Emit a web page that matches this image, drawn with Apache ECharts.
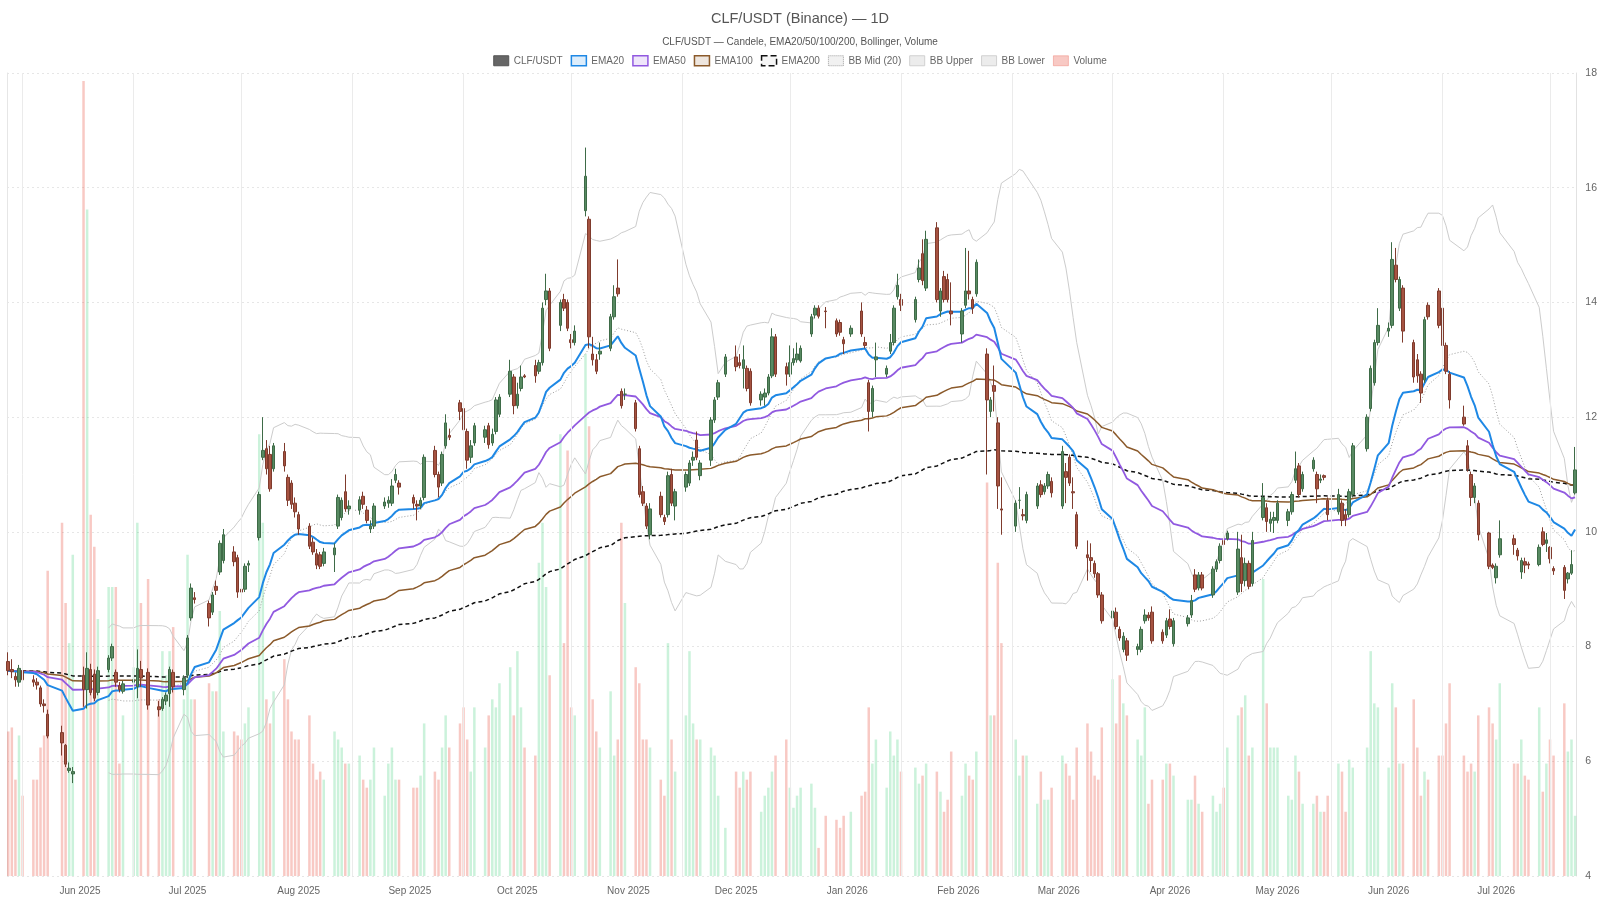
<!DOCTYPE html>
<html>
<head>
<meta charset="utf-8">
<title>CLF/USDT (Binance) — 1D</title>
<script src="https://cdn.jsdelivr.net/npm/echarts@6/dist/echarts.min.js"></script>
<style>
  html, body { margin: 0; padding: 0; background: #fff; }
  #chart { width: 1600px; height: 900px; }
</style>
</head>
<body>
<div id="chart"></div>
<script>
// Trading calendar (US market days)
const firstDay = [2025, 4, 12];
const lastDay = [2026, 6, 23];
const holidays = [
    '2025-05-26', '2025-06-19', '2025-07-04', '2025-09-01', '2025-11-27', '2025-12-25',
    '2026-01-01', '2026-01-19', '2026-02-16', '2026-04-03', '2026-05-25', '2026-06-19', '2026-07-03'
];
const monthNames = ['Jan', 'Feb', 'Mar', 'Apr', 'May', 'Jun', 'Jul', 'Aug', 'Sep', 'Oct', 'Nov', 'Dec'];

// Daily candles [open, high, low, close], one line per week
const candles = [
    [7.74,7.90,7.50,7.58],[7.60,7.78,7.45,7.56],[7.48,7.55,7.30,7.42],[7.38,7.68,7.30,7.62],[7.58,7.62,7.35,7.42],
    [7.42,7.50,7.30,7.38],[7.38,7.45,7.25,7.33],[7.28,7.32,6.95,7.00],[7.00,7.08,6.85,6.97],[6.82,6.90,6.40,6.44],
    [6.50,6.62,6.10,6.32],[6.28,6.30,5.90,5.95],[5.84,5.98,5.80,5.88],[5.78,5.90,5.62,5.82],
    [7.50,7.65,6.95,7.25],[7.25,7.90,6.92,7.62],[7.60,7.70,7.15,7.20],[7.52,7.60,7.05,7.10],[7.20,7.65,7.15,7.58],
    [7.60,7.85,7.55,7.80],[7.80,8.05,7.75,8.00],[7.55,7.60,7.30,7.38],[7.32,7.38,7.20,7.25],[7.22,7.40,7.18,7.35],
    [7.38,7.50,7.20,7.42],[7.30,7.95,7.10,7.62],[7.60,7.75,7.30,7.45],[7.55,7.62,6.90,6.98],
    [6.95,7.05,6.78,6.90],[6.92,7.12,6.88,7.08],[7.05,7.20,6.98,7.15],[7.18,7.65,6.95,7.60],[7.55,7.60,7.20,7.30],
    [7.25,7.50,7.15,7.45],[7.50,8.20,7.45,8.15],[8.50,9.10,8.45,9.02],[8.85,8.95,8.75,8.82],
    [8.75,8.80,8.35,8.50],[8.60,8.95,8.55,8.90],[9.05,9.15,8.90,8.98],[9.30,9.85,9.25,9.80],[9.50,10.05,9.45,9.95],
    [9.65,9.75,9.40,9.48],[9.55,9.60,8.85,8.95],[9.00,9.10,8.70,8.95],[9.00,9.45,8.95,9.40],[9.42,9.50,9.30,9.45],
    [9.90,10.70,9.85,10.65],[11.30,12.00,11.25,11.42],[11.45,11.60,11.00,11.10],[11.35,11.50,10.70,10.75],[11.10,11.55,11.05,11.50],
    [11.40,11.55,11.05,11.15],[10.95,11.00,10.45,10.55],[10.85,10.90,10.40,10.48],[10.50,10.60,10.25,10.35],[10.30,10.35,9.95,10.05],
    [10.10,10.15,9.70,9.75],[9.82,9.90,9.60,9.65],[9.62,9.70,9.35,9.42],[9.60,9.65,9.35,9.40],[9.45,9.72,9.40,9.65],
    [9.60,9.80,9.30,9.72],[10.10,10.65,10.05,10.60],[10.25,10.60,10.20,10.55],[10.70,11.00,10.35,10.40],[10.40,10.55,10.30,10.45],
    [10.38,10.62,10.30,10.56],[10.62,10.70,10.40,10.48],[10.38,10.45,10.15,10.20],[10.05,10.20,9.98,10.10],[10.10,10.50,10.05,10.45],
    [10.45,10.60,10.40,10.52],[10.50,10.62,10.42,10.55],[10.50,10.92,10.45,10.80],[10.90,11.10,10.85,11.00],[10.85,10.90,10.65,10.78],
    [10.60,10.65,10.40,10.50],[10.48,10.55,10.20,10.45],[10.45,10.60,10.40,10.55],[10.60,11.35,10.55,11.30],
    [11.42,11.50,10.95,11.00],[11.00,11.05,10.60,10.78],[10.85,11.40,10.80,11.35],[11.50,12.05,11.45,11.90],[11.68,11.80,11.60,11.65],
    [12.25,12.30,11.95,12.10],[12.15,12.20,11.70,11.78],[11.75,11.80,11.10,11.25],[11.30,11.60,11.20,11.50],[11.55,11.90,11.50,11.85],
    [11.65,11.85,11.55,11.78],[11.85,11.90,11.45,11.52],[11.55,11.80,11.50,11.70],[11.75,12.35,11.70,12.30],[12.05,12.40,12.00,12.35],
    [12.40,13.00,12.35,12.80],[12.70,12.75,12.05,12.20],[12.20,12.60,12.15,12.40],[12.50,12.90,12.45,12.70],[12.72,12.75,12.68,12.70],
    [12.90,13.00,12.60,12.72],[12.80,13.00,12.75,12.95],[12.95,14.00,12.90,13.90],[14.05,14.50,13.95,14.20],[14.20,14.25,13.15,13.20],
    [13.60,14.05,13.50,14.00],[14.05,14.15,13.85,13.90],[14.00,14.05,13.50,13.55],[13.35,13.45,13.20,13.30],[13.30,13.60,13.25,13.50],
    [15.60,16.70,15.50,16.20],[15.45,15.50,13.20,13.40],[13.10,13.40,12.90,13.00],[13.00,13.10,12.75,12.80],[13.10,13.30,13.00,13.15],
    [13.20,13.80,13.15,13.75],[13.75,14.30,13.70,14.10],[14.25,14.75,14.10,14.15],[12.45,12.50,12.15,12.20],[12.40,12.50,12.30,12.40],
    [12.25,12.30,11.75,11.80],[11.45,11.50,10.60,10.65],[10.70,10.80,10.45,10.50],[10.45,10.50,10.05,10.10],[9.95,10.50,9.87,10.40],
    [10.62,10.70,10.25,10.30],[10.25,10.30,10.12,10.18],[10.30,11.05,10.25,10.98],[11.00,11.10,10.45,10.50],[10.45,10.75,10.20,10.70],
    [10.78,11.05,10.70,11.00],[10.85,11.25,10.80,11.20],[11.25,11.40,11.15,11.30],[11.60,11.75,11.25,11.30],[10.98,11.25,10.90,11.20],
    [11.25,12.00,11.15,11.95],[11.95,12.35,11.90,12.30],[12.35,12.65,12.30,12.60],[12.75,13.10,12.70,13.05],
    [13.05,13.25,12.80,12.88],[12.95,13.10,12.85,12.90],[12.85,13.25,12.50,13.00],[12.85,12.90,12.45,12.50],[12.80,12.85,12.20,12.25],
    [12.30,12.45,12.20,12.40],[12.35,12.50,12.20,12.42],[12.42,12.75,12.38,12.70],[12.72,13.55,12.68,13.40],[13.40,13.45,12.70,12.75],
    [12.88,12.95,12.55,12.75],[12.75,13.25,12.70,12.95],[12.95,13.20,12.90,13.02],[13.00,13.30,12.95,13.10],[12.98,13.25,12.95,13.20],
    [13.45,13.80,13.40,13.75],[13.78,13.95,13.72,13.90],[13.90,13.95,13.72,13.76],[13.85,13.92,13.55,13.84],
    [13.68,13.72,13.40,13.45],[13.65,13.70,13.42,13.48],[13.35,13.40,13.10,13.28],[13.45,13.60,13.40,13.55],
    [13.85,14.00,13.40,13.45],[13.30,13.40,13.20,13.25],[12.60,12.65,11.75,12.10],[12.10,12.55,12.00,12.50],[13.00,13.30,12.70,13.05],
    [12.75,12.90,12.70,12.85],[13.15,13.45,13.10,13.30],[13.30,13.95,13.25,13.90],[14.10,14.50,14.05,14.30],[14.05,14.15,13.85,13.95],
    [13.70,14.10,13.65,14.05],[14.40,14.75,14.35,14.60],[14.85,15.10,14.30,14.38],[14.25,15.25,14.20,15.10],
    [15.30,15.40,14.00,14.05],[13.85,14.25,13.75,14.20],[14.45,14.55,14.00,14.05],[14.40,14.50,14.00,14.05],[13.85,14.35,13.60,13.80],
    [13.45,13.90,13.30,13.85],[13.95,14.95,13.90,14.20],[14.20,14.90,14.05,14.15],[14.05,14.10,13.80,13.90],[14.15,14.75,14.10,14.70],
    [13.10,13.20,11.00,12.30],[12.10,12.35,12.00,12.30],[12.55,12.90,12.10,12.45],[11.90,12.00,10.40,10.80],[10.40,10.95,9.95,10.38],
    [10.10,10.55,10.00,10.50],[10.55,10.78,10.40,10.55],[10.30,10.40,10.20,10.28],[10.20,10.70,10.15,10.65],
    [10.45,10.85,10.40,10.80],[10.82,10.90,10.60,10.65],[10.70,10.85,10.65,10.80],[10.80,11.05,10.75,11.00],[10.88,10.95,10.60,10.68],
    [10.45,11.50,10.40,11.40],[11.05,11.20,10.50,10.95],[11.30,11.35,10.80,10.85],[10.70,10.95,10.40,10.68],[10.30,10.35,9.70,9.75],
    [9.60,9.85,9.15,9.55],[9.55,9.80,9.30,9.50],[9.45,9.50,9.20,9.27],[9.27,9.30,8.85,8.90],[8.90,8.95,8.40,8.45],
    [8.50,8.70,8.45,8.62],[8.60,8.68,8.30,8.35],[8.30,8.35,8.10,8.15],[7.95,8.25,7.90,8.18],[8.10,8.15,7.75,7.85],
    [7.95,8.05,7.85,8.00],[7.95,8.35,7.90,8.30],[8.45,8.65,8.40,8.55],[8.55,8.60,8.45,8.50],[8.60,8.70,8.05,8.10],
    [8.25,8.30,8.05,8.10],[8.20,8.50,8.15,8.45],[8.48,8.65,8.30,8.35],[8.05,8.50,8.00,8.45],
    [8.40,8.55,8.35,8.50],[8.55,8.90,8.50,8.80],[9.25,9.35,8.95,9.00],[9.02,9.30,8.98,9.25],[9.25,9.30,8.98,9.02],
    [8.90,9.40,8.85,9.35],[9.35,9.52,9.30,9.48],[9.50,9.80,9.45,9.75],[9.85,9.95,9.70,9.78],[9.88,10.02,9.85,9.98],
    [8.95,10.00,8.90,9.70],[9.55,9.95,8.95,9.10],[9.15,9.55,9.05,9.45],[9.45,9.50,9.00,9.05],[9.10,10.00,9.05,9.85],
    [10.25,10.85,10.20,10.60],[10.42,10.50,10.00,10.18],[10.15,10.35,10.00,10.22],[10.20,10.35,9.98,10.25],[10.20,10.55,10.15,10.50],
    [10.20,10.40,10.10,10.35],[10.35,10.70,10.30,10.65],[10.90,11.40,10.85,11.10],[11.15,11.20,10.60,10.65],[10.75,11.05,10.70,11.00],
    [11.10,11.30,11.05,11.25],[11.00,11.05,10.50,10.75],[10.90,11.00,10.85,10.92],[10.98,11.00,10.90,10.95],[10.55,10.60,10.20,10.30],
    [10.35,10.75,10.30,10.65],[10.50,10.55,10.10,10.20],[10.30,10.40,10.10,10.22],[10.30,10.75,10.25,10.70],[10.65,11.55,10.60,11.50],
    [11.45,12.05,11.40,12.00],[12.15,12.90,12.10,12.85],[12.60,13.35,12.55,13.30],[13.30,13.90,13.25,13.60],
    [13.50,13.65,13.40,13.55],[13.60,15.05,13.55,14.75],[14.65,14.95,14.35,14.40],[13.90,14.45,13.85,14.40],[14.25,14.30,13.30,13.50],
    [13.30,13.35,12.60,12.70],[13.00,13.10,12.60,12.72],[12.75,12.80,12.25,12.42],[12.65,13.75,12.60,13.70],[13.95,14.00,13.70,13.75],
    [14.20,14.25,13.55,13.60],[13.90,13.95,13.20,13.25],[13.25,13.30,12.75,12.80],[12.75,12.80,12.15,12.30],
    [12.00,12.20,11.85,11.88],[11.50,11.60,11.05,11.10],[11.00,11.05,10.45,10.60],[10.60,10.85,10.50,10.80],[10.50,10.55,9.85,9.95],
    [9.98,10.00,9.35,9.40],[9.42,9.45,9.35,9.38],[9.20,9.45,9.10,9.40],[9.60,10.20,9.55,9.88],
    [9.88,9.95,9.60,9.78],[9.68,9.72,9.50,9.58],[9.30,9.55,9.18,9.50],[9.48,9.55,9.28,9.42],[9.44,9.48,9.35,9.42],
    [9.43,9.78,9.40,9.73],[10.00,10.08,9.75,9.78],[9.80,9.98,9.65,9.86],[9.73,9.75,9.45,9.53],[9.36,9.40,9.25,9.32],
    [9.38,9.42,8.83,8.98],[9.18,9.30,9.10,9.28],[9.28,9.68,9.25,9.43],[10.68,11.48,10.65,11.08]
];

// Daily volume (thousands), same order
const volumes = [
    180,185,120,175,100,  120,120,160,175,380,  440,340,290,400,  990,830,450,410,320,
    360,360,360,140,200,  260,440,340,370,  220,280,250,280,310,  220,400,220,220,
    240,230,230,330,180,  180,175,170,190,210,  550,440,220,190,230,  270,220,180,170,170,
    200,140,120,130,120,  180,170,160,140,140,  150,120,110,120,160,  100,140,160,120,120,
    110,110,125,190,  130,120,160,200,160,  190,210,170,130,210,  160,200,220,210,240,
    260,200,280,210,160,  150,390,440,360,250,  550,290,530,210,200,  650,560,220,180,160,
    230,150,170,440,340,  260,240,170,170,160,  120,100,290,170,130,  200,280,190,170,170,
    160,150,100,60,  130,110,130,120,130,  80,100,110,130,150,  170,110,85,100,110,
    115,85,35,75,  70,60,75,80,  100,105,210,140,170,  110,180,150,170,130,
    135,115,125,140,  130,105,80,95,155,  100,140,125,120,155,  490,200,200,390,290,
    170,125,150,150,  90,130,95,95,110,  150,140,125,95,160,  190,155,125,120,185,
    245,190,250,215,200,  170,150,210,90,120,  120,140,140,125,  95,95,125,90,80,
    100,80,90,110,160,  200,210,225,150,160,  370,215,160,160,160,  100,95,150,130,90,
    90,100,80,80,100,  140,130,80,145,135,  160,280,215,210,  135,240,210,140,140,
    220,160,100,130,120,  150,150,190,240,  150,130,140,130,200,  210,190,170,240,
    140,140,170,125,120,  210,105,140,170,150,  215,155,170,75
];

// Price axis
const priceMin = 4;
const priceMax = 18;
const priceStep = 2;
const volumeMax = 1000;

function ymd(d) {
    return d.getFullYear() + '-' + String(d.getMonth() + 1).padStart(2, '0') + '-' + String(d.getDate()).padStart(2, '0');
}

// Build trading dates
const dates = [];
const endDate = new Date(lastDay[0], lastDay[1], lastDay[2]);
for (let d = new Date(firstDay[0], firstDay[1], firstDay[2]); d <= endDate; d.setDate(d.getDate() + 1)) {
    const wd = d.getDay();
    if (wd === 0 || wd === 6 || holidays.includes(ymd(d))) continue;
    dates.push(d.getTime());
}
const count = Math.min(dates.length, candles.length, volumes.length);
const closes = candles.slice(0, count).map(c => c[3]);

function ema(values, span) {
    const k = 2 / (span + 1);
    const out = [];
    let prev = values[0];
    values.forEach((v, i) => {
        prev = i === 0 ? v : v * k + prev * (1 - k);
        out.push(prev);
    });
    return out;
}

function bollinger(values, n, mult) {
    const mid = [], up = [], low = [];
    values.forEach((v, i) => {
        if (i < n - 1) { mid.push(null); up.push(null); low.push(null); return; }
        const win = values.slice(i - n + 1, i + 1);
        const mean = win.reduce((a, b) => a + b, 0) / n;
        const sd = Math.sqrt(win.reduce((a, b) => a + (b - mean) * (b - mean), 0) / (n - 1));
        mid.push(mean); up.push(mean + mult * sd); low.push(mean - mult * sd);
    });
    return { mid, up, low };
}

const ema20 = ema(closes, 20);
const ema50 = ema(closes, 50);
const ema100 = ema(closes, 100);
const ema200 = ema(closes, 200);
const bb = bollinger(closes, 20, 2);

const pair = arr => arr.map((v, i) => [dates[i], v === null ? null : +v.toFixed(4)]);

// mid-month vertical grid lines
const gridDates = [];
for (let y = firstDay[0], m = firstDay[1]; y < lastDay[0] || (y === lastDay[0] && m <= lastDay[1]); m++) {
    if (m > 11) { m = 0; y++; }
    gridDates.push(new Date(y, m, 16).getTime());
}

const chart = echarts.init(document.getElementById('chart'));

const lineSeries = (name, data, color, width, type, z) => ({
    name, type: 'line', data, showSymbol: false, symbol: 'none', z: z || 3,
    lineStyle: { color, width, type },
    itemStyle: { color },
    connectNulls: false
});

const option = {
    animation: false,
    backgroundColor: '#fff',
    textStyle: { fontFamily: 'Liberation Sans, Arial, sans-serif' },
    title: {
        text: 'CLF/USDT (Binance) — 1D',
        subtext: 'CLF/USDT — Candele, EMA20/50/100/200, Bollinger, Volume',
        left: 'center',
        top: 6,
        itemGap: 11,
        textStyle: { fontSize: 14.5, fontWeight: 'normal', color: '#555' },
        subtextStyle: { fontSize: 10, color: '#555' }
    },
    legend: {
        top: 50,
        left: 'center',
        icon: 'rect',
        itemWidth: 15,
        itemHeight: 10,
        itemGap: 8,
        textStyle: { color: '#666', fontSize: 10 },
        data: [
            { name: 'CLF/USDT', itemStyle: { color: '#666', borderColor: '#555', borderWidth: 1 } },
            { name: 'EMA20', itemStyle: { color: 'rgba(30,136,229,0.15)', borderColor: '#1e88e5', borderWidth: 1.5 } },
            { name: 'EMA50', itemStyle: { color: 'rgba(145,89,224,0.15)', borderColor: '#9159e0', borderWidth: 1.5 } },
            { name: 'EMA100', itemStyle: { color: 'rgba(139,90,43,0.15)', borderColor: '#8b5a2b', borderWidth: 1.5 } },
            { name: 'EMA200', itemStyle: { color: 'rgba(0,0,0,0.04)', borderColor: '#111', borderWidth: 1.5, borderType: 'dashed' } },
            { name: 'BB Mid (20)', itemStyle: { color: 'rgba(160,160,160,0.15)', borderColor: '#9e9e9e', borderWidth: 1, borderType: 'dotted' } },
            { name: 'BB Upper', itemStyle: { color: 'rgba(200,200,200,0.35)', borderColor: '#d0d0d0', borderWidth: 1 } },
            { name: 'BB Lower', itemStyle: { color: 'rgba(200,200,200,0.35)', borderColor: '#d0d0d0', borderWidth: 1 } },
            { name: 'Volume', itemStyle: { color: 'rgba(231,76,60,0.3)', borderColor: 'rgba(231,76,60,0.3)', borderWidth: 1 } }
        ]
    },
    grid: { left: 7, right: 23, top: 73, bottom: 24 },
    xAxis: {
        type: 'time',
        min: dates[0],
        max: dates[count - 1],
        minInterval: 28 * 864e5,
        maxInterval: 31 * 864e5,
        axisLine: { show: false },
        axisTick: { show: false },
        splitLine: { show: false },
        axisLabel: {
            color: '#666',
            fontSize: 10,
            margin: 10,
            showMinLabel: false,
            showMaxLabel: false,
            formatter: v => {
                const d = new Date(v);
                if (d.getDate() !== 1 || d.getHours() !== 0) return '';
                return monthNames[d.getMonth()] + ' ' + d.getFullYear();
            }
        }
    },
    yAxis: [
        {
            type: 'value',
            position: 'right',
            min: priceMin,
            max: priceMax,
            interval: priceStep,
            axisLine: { show: true, lineStyle: { color: '#e2e2e2' } },
            axisTick: { show: false },
            axisLabel: { color: '#666', fontSize: 10.5, margin: 9 },
            splitLine: { lineStyle: { color: '#e6e6e6', type: [2, 3] } }
        },
        {
            type: 'value',
            position: 'left',
            min: 0,
            max: volumeMax,
            axisLine: { show: true, lineStyle: { color: '#e6e6e6' } },
            axisTick: { show: false },
            axisLabel: { show: false },
            splitLine: { show: false }
        }
    ],
    series: [
        {
            name: 'Volume',
            type: 'bar',
            yAxisIndex: 1,
            barWidth: 2.5,
            z: 1,
            data: volumes.slice(0, count).map((v, i) => ({
                value: [dates[i], v],
                itemStyle: { color: candles[i][3] >= candles[i][0] ? 'rgba(46,204,113,0.25)' : 'rgba(231,76,60,0.3)' }
            })),
            markLine: {
                silent: true,
                symbol: ['none', 'none'],
                label: { show: false },
                lineStyle: { color: '#ebebeb', width: 1, type: 'solid' },
                data: gridDates.map(t => ({ xAxis: t }))
            }
        },
        lineSeries('BB Upper', pair(bb.up), '#cccccc', 1, 'solid', 2),
        lineSeries('BB Lower', pair(bb.low), '#cccccc', 1, 'solid', 2),
        lineSeries('BB Mid (20)', pair(bb.mid), '#9e9e9e', 1, [1, 2], 2),
        lineSeries('EMA200', pair(ema200), '#111111', 1.5, [4, 3], 3),
        lineSeries('EMA100', pair(ema100), '#8b5a2b', 1.5, 'solid', 3),
        lineSeries('EMA50', pair(ema50), '#9159e0', 1.8, 'solid', 3),
        lineSeries('EMA20', pair(ema20), '#1e88e5', 2, 'solid', 3),
        {
            name: 'CLF/USDT',
            type: 'candlestick',
            barWidth: 3,
            z: 4,
            encode: { x: 0, y: [1, 2, 3, 4] },
            data: candles.slice(0, count).map((c, i) => [dates[i], c[0], c[3], c[2], c[1]]),
            itemStyle: {
                color: '#588a62',
                color0: '#a65341',
                borderColor: '#3e6b47',
                borderColor0: '#7f3b2d',
                borderWidth: 1
            }
        }
    ]
};

chart.setOption(option);
window.addEventListener('resize', () => chart.resize());
</script>
</body>
</html>
